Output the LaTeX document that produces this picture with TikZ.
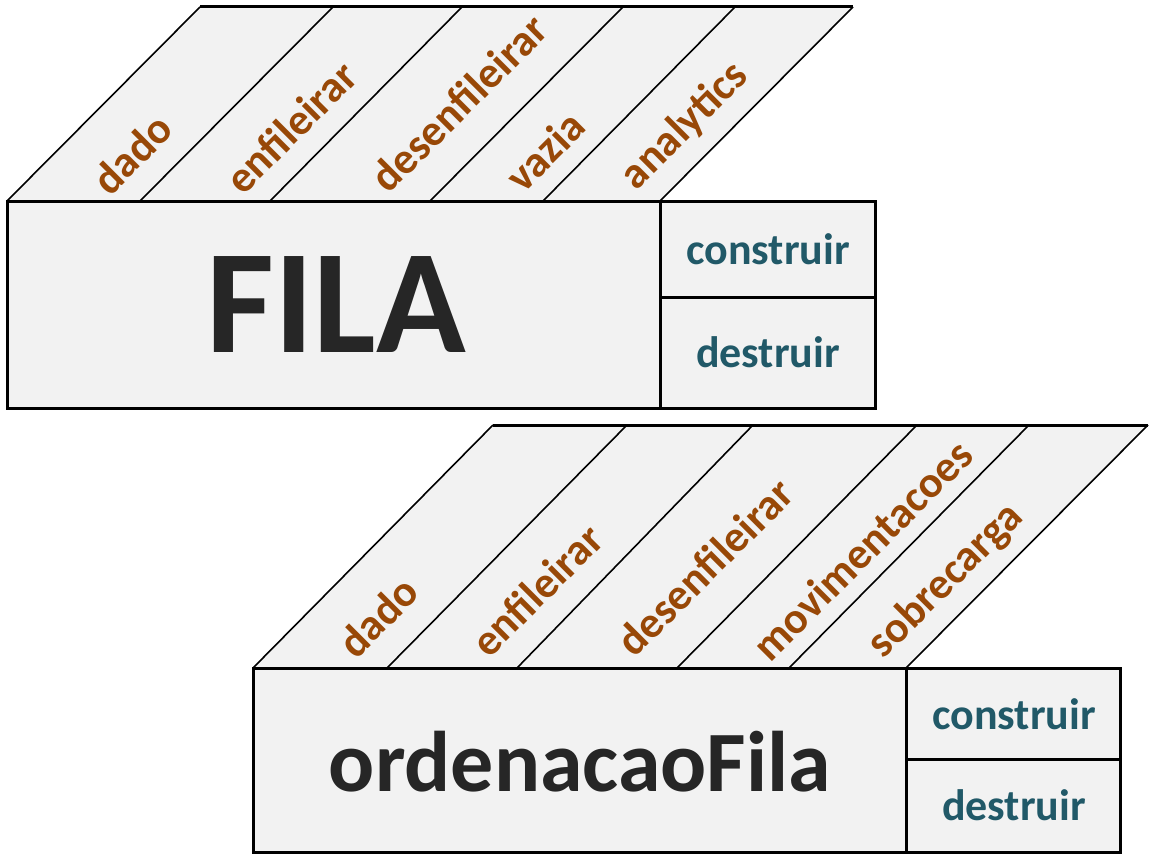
\documentclass[tikz,border=0pt]{standalone}
\usepackage{fontspec}
\setmainfont{Carlito}
\usepackage{xcolor}
\usepackage{tikz}

\definecolor{marrom}{HTML}{984807}
\definecolor{petroleo}{HTML}{215968}
\definecolor{cinza}{HTML}{F2F2F2}
\definecolor{escuro}{HTML}{262626}

\tikzset{
	metodo/.style={font=\bfseries\fontsize{44}{44}\selectfont, text=marrom, rotate=45, inner sep=0pt},
	ciclo/.style={font=\bfseries\fontsize{44}{44}\selectfont, text=petroleo, inner sep=0pt},
	classe/.style={font=\bfseries, text=escuro, inner sep=0pt},
	borda/.style={line width=3pt},
	fina/.style={line width=1.6pt}
}

\begin{document}
\begin{tikzpicture}[x=1pt,y=-1pt]
		\useasboundingbox (0,0) rectangle (1154,864);
		
		% FILA
		\fill[cinza] (7,201) -- (200,7) -- (853,7) -- (660,201) -- cycle;
		\foreach \b/\t in {7/200,140/333,270/462,430/623,543/735,660/853}{
			\draw[fina] (\b,201) -- (\t,7);
		}
		\draw[borda] (200,7) -- (853,7);
		\draw[borda,fill=cinza] (7,201) rectangle (875,408);
		\draw[borda] (660,201) -- (660,408);
		\draw[borda] (660,297) -- (875,297);
		
		\node[metodo] (f-dado) at (132,154) {dado};
		\node[metodo] (f-enfileirar) at (291,127) {enfileirar};
		\node[metodo] (f-desenfileirar) at (459,103) {desenfileirar};
		\node[metodo] (f-vazia) at (545,151) {vazia};
		\node[metodo] (f-analytics) at (685,126) {analytics};
		
		\node[classe,font=\bfseries\fontsize{148}{148}\selectfont] (fila) at (336,305) {FILA};
		\node[ciclo] (f-construir) at (768,249) {construir};
		\node[ciclo] (f-destruir) at (768,352) {destruir};
		
		% ordenacaoFila
		\fill[cinza] (253,668) -- (493,425) -- (1148,425) -- (906,668) -- cycle;
		\foreach \b/\t in {253/493,387/627,517/753,677/917,789/1029,906/1148}{
			\draw[fina] (\b,668) -- (\t,425);
		}
		\draw[borda] (493,425) -- (1148,425);
		\draw[borda,fill=cinza] (253,668) rectangle (1120,852);
		\draw[borda] (906,668) -- (906,852);
		\draw[borda] (906,759) -- (1120,759);
		
		\node[metodo] (o-dado) at (378,617) {dado};
		\node[metodo] (o-enfileirar) at (537,590) {enfileirar};
		\node[metodo] (o-desenfileirar) at (705,567) {desenfileirar};
		\node[metodo] (o-movimentacoes) at (862,550) {movimentacoes};
		\node[metodo] (o-sobrecarga) at (946,581) {sobrecarga};
		
		\node[classe,font=\bfseries\fontsize{86}{86}\selectfont] (ordenacao) at (580,762) {ordenacaoFila};
		\node[ciclo] (o-construir) at (1014,714) {construir};
		\node[ciclo] (o-destruir) at (1014,805) {destruir};
	\end{tikzpicture}
\end{document}
